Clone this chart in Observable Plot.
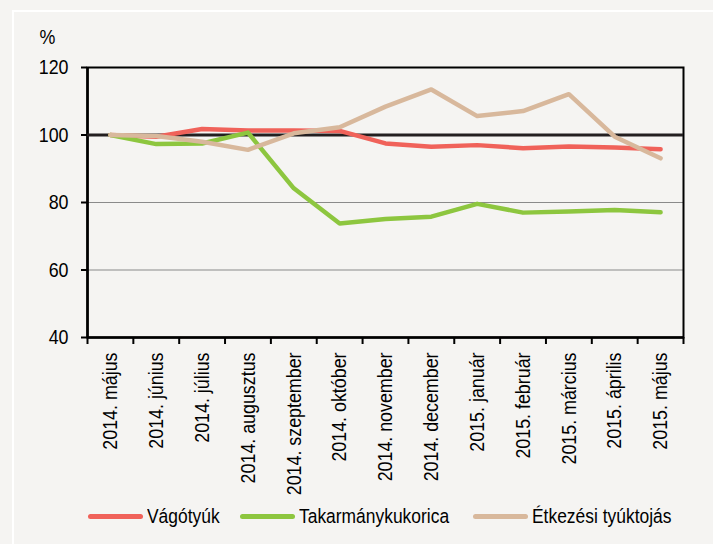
<!DOCTYPE html>
<html>
<head>
<meta charset="utf-8">
<script src="https://cdn.jsdelivr.net/npm/d3@7"></script>
<script src="https://cdn.jsdelivr.net/npm/@observablehq/plot@0.6"></script>
<style>
  html, body { margin: 0; padding: 0; background: #f5f4f2; }
  body { width: 713px; height: 544px; position: relative; overflow: hidden;
         font-family: "Liberation Sans", Arial, sans-serif; }
  #chart svg { display: block; }
  #chart svg text { font-size: 21px; fill: #000; }
  #chart svg .tick line, #chart svg [aria-label$="axis"] line, #chart svg [aria-label$="tick"] path { stroke-width: 2px; stroke: #000; }
  .vline { position: absolute; left: 12px; top: 10px; width: 2px; height: 534px; background: #fff; }
  .hline { position: absolute; left: 12px; top: 10px; width: 701px; height: 2px; background: #fff; }
  #legend { position: absolute; left: 0; top: 500px; width: 713px; height: 32px; font-size: 20.5px; color: #000; }
  #legend .item { position: absolute; top: 0; height: 32px; display: flex; align-items: center; white-space: nowrap; }
  #legend .sw { width: 55px; height: 5px; border-radius: 3px; margin-right: 4px; flex: none; }
  #legend .lab { display: inline-block; transform: scaleX(0.85); transform-origin: left center; }
</style>
</head>
<body>
<div class="vline"></div>
<div class="hline"></div>
<div id="chart" style="position:relative"></div>
<div id="legend"></div>
<script>
const months = ["2014. május","2014. június","2014. július","2014. augusztus","2014. szeptember","2014. október","2014. november","2014. december","2015. január","2015. február","2015. március","2015. április","2015. május"];
const seriesNames = ["Vágótyúk","Takarmánykukorica","Étkezési tyúktojás"];
const vagotyuk = [100, 99.5, 101.8, 101.3, 101.3, 101.2, 97.5, 96.5, 97.0, 96.1, 96.6, 96.3, 95.8];
const takarmanykukorica = [100, 97.3, 97.5, 100.7, 84.2, 73.8, 75.1, 75.8, 79.6, 77.0, 77.3, 77.8, 77.1];
const etkezesi = [100, 99.7, 98.0, 95.6, 100.5, 102.3, 108.4, 113.5, 105.6, 107.1, 112.1, 99.5, 93.1];
const yTicks = [40, 60, 80, 100, 120];
const colors = ["#f0625a", "#8dc63f", "#d8b89c"];
const legendLeft = [88, 240, 473];

const valueArrays = [vagotyuk, takarmanykukorica, etkezesi];
const rows = [];
valueArrays.forEach((arr, s) => arr.forEach((v, i) => rows.push({series: seriesNames[s], i, month: months[i], value: v})));

const plot = Plot.plot({
  width: 713,
  height: 500,
  marginLeft: 87,
  marginRight: 30,
  marginTop: 67,
  marginBottom: 163,
  style: {background: "transparent", fontFamily: "'Liberation Sans', Arial, sans-serif", fontSize: "21px", color: "#000"},
  x: {type: "linear", domain: [0, months.length], ticks: d3.range(0, months.length + 1), tickFormat: () => "", tickSize: 7, label: null},
  y: {domain: [40, 120], ticks: yTicks, tickSize: 6, tickFormat: () => "", label: null},
  color: {domain: seriesNames, range: colors},
  marks: [
    Plot.ruleY([60, 80], {stroke: "#8a8a8a", strokeWidth: 1.2}),
    Plot.frame({stroke: "#000", strokeWidth: 2}),
    Plot.ruleX([0], {stroke: "#000", strokeWidth: 2.6}),
    Plot.ruleY([40], {stroke: "#000", strokeWidth: 2.6}),
    Plot.ruleY([100], {stroke: "#231f20", strokeWidth: 3}),
    Plot.line(rows, {x: d => d.i + 0.5, y: "value", z: "series", stroke: "series", strokeWidth: 4.5, strokeLinejoin: "round", strokeLinecap: "round"}),
    Plot.text(yTicks, {y: d => d, frameAnchor: "left", text: d => String(d), textAnchor: "end", lineAnchor: "middle", dx: -19, fill: "#000"}),
    Plot.text(months, {x: (d, i) => i + 0.5, frameAnchor: "bottom", text: d => d, rotate: -90, textAnchor: "end", lineAnchor: "middle", dy: 15, fill: "#000"}),
    Plot.text(["%"], {frameAnchor: "top-left", text: d => d, textAnchor: "middle", lineAnchor: "middle", dx: -40, dy: -30, fill: "#000"})
  ]
});
document.getElementById("chart").appendChild(plot);

// narrow the text horizontally (condensed look), keeping each text's anchor in place
const k = 0.85;
plot.querySelectorAll("text").forEach(t => {
  if (!t.textContent) return;
  const b = t.getBBox();
  const a = getComputedStyle(t).textAnchor;
  const ax = a === "end" ? b.x + b.width : a === "middle" ? b.x + b.width / 2 : b.x;
  const tr = t.getAttribute("transform") || "";
  t.setAttribute("transform", `${tr} translate(${ax},0) scale(${k},1) translate(${-ax},0)`);
});

const legend = document.getElementById("legend");
seriesNames.forEach((name, s) => {
  const item = document.createElement("div");
  item.className = "item";
  item.style.left = legendLeft[s] + "px";
  const sw = document.createElement("div");
  sw.className = "sw";
  sw.style.background = colors[s];
  const label = document.createElement("span");
  label.className = "lab";
  label.textContent = name;
  item.appendChild(sw);
  item.appendChild(label);
  legend.appendChild(item);
});
</script>
</body>
</html>
